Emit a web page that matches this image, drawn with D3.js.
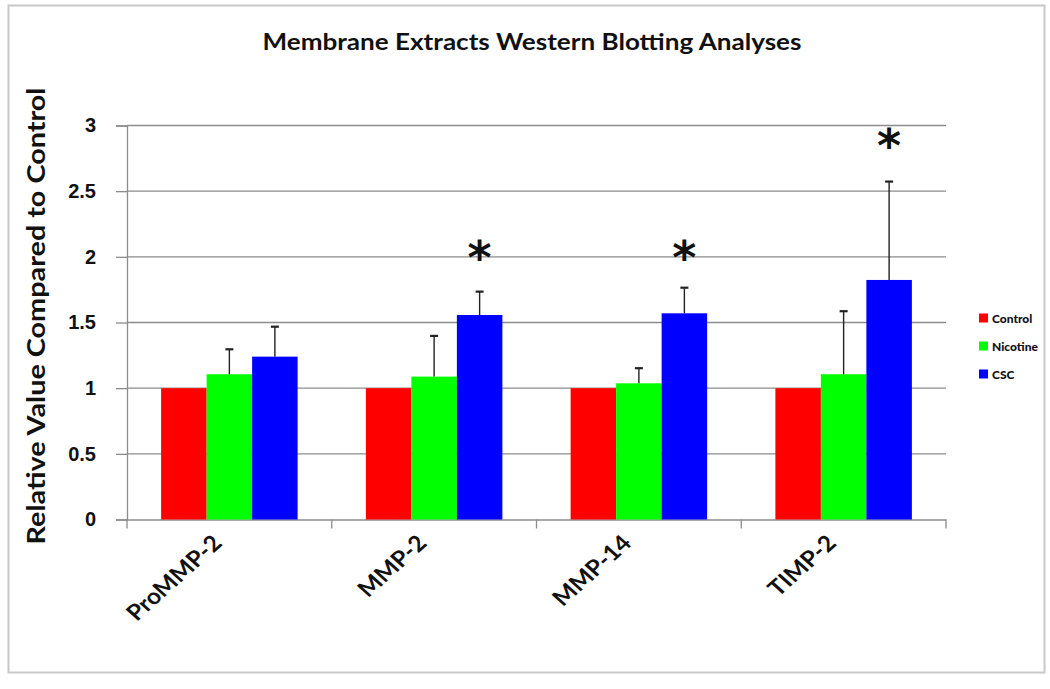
<!DOCTYPE html>
<html><head><meta charset="utf-8">
<script src="https://cdn.jsdelivr.net/npm/d3@7"></script>
<style>body{margin:0;background:#fff;} svg{display:block;font-family:Lato,"Open Sans",sans-serif;}</style>
</head><body>
<script>
const categories = ["ProMMP-2","MMP-2","MMP-14","TIMP-2"];
const seriesNames = ["Control","Nicotine","CSC"];
const control = [1,1,1,1];
const nicotine = [1.106,1.088,1.037,1.106];
const csc = [1.24,1.557,1.57,1.824];
const controlErr = [0,0,0,0];
const nicotineErr = [0.19,0.31,0.115,0.48];
const cscErr = [0.228,0.178,0.195,0.749];
const asteriskAt = [null,2.03,2.03,2.88];
const yTicks = [0,0.5,1,1.5,2,2.5,3];
const colors = ["#ff0000","#00ff00","#0000ff"];

(function(){
const W=1050,H=689;
const svg=d3.select("body").append("svg").attr("width",W).attr("height",H);
svg.append("rect").attr("x",8.5).attr("y",5.5).attr("width",1036).attr("height",667)
  .attr("fill","#fff").attr("stroke","#c8c8c8").attr("stroke-width",2);

const pLeft=127,pRight=946,pTop=125.5,pBottom=519.5;
const x=d3.scaleBand().domain(categories).range([pLeft,pRight]);
const y=d3.scaleLinear().domain([0,3]).range([pBottom,pTop]);
const inner=d3.scaleBand().domain(seriesNames).range([0,x.bandwidth()]).paddingInner(0).paddingOuter(0.75);

svg.append("g").selectAll("line").data(yTicks.filter(d=>d>0)).join("line")
  .attr("x1",pLeft).attr("x2",pRight).attr("y1",d=>y(d)).attr("y2",d=>y(d))
  .attr("stroke","#8c8c8c").attr("stroke-width",1.3);

const ya=svg.append("g").attr("transform",`translate(${pLeft},0)`)
  .call(d3.axisLeft(y).tickValues(yTicks).tickFormat(d=>String(d)).tickSizeOuter(0).tickSize(11).tickPadding(20));
ya.select(".domain").attr("stroke","#8c8c8c").attr("stroke-width",1.3);
ya.selectAll(".tick line").attr("stroke","#8c8c8c").attr("stroke-width",1.3);
ya.selectAll("text").attr("font-size",20).attr("font-weight","bold").attr("fill","#111");

const xa=svg.append("g").attr("transform",`translate(0,${pBottom})`)
  .call(d3.axisBottom(x).tickSize(0).tickFormat(""));
xa.select(".domain").attr("stroke","#8c8c8c").attr("stroke-width",1.3);
const xEdges=[pLeft].concat(categories.map(c=>x(c)+x.bandwidth()));
svg.append("g").selectAll("line").data(xEdges).join("line")
  .attr("x1",d=>d).attr("x2",d=>d).attr("y1",pBottom).attr("y2",pBottom+9)
  .attr("stroke","#8c8c8c").attr("stroke-width",1.3);
svg.append("g").selectAll("text").data(categories).join("text")
  .attr("transform",d=>`translate(${x(d)+x.bandwidth()/2-6},${pBottom+25}) scale(1.12,1) rotate(-45)`)
  .attr("text-anchor","end").attr("font-size",22).attr("font-weight","bold").attr("fill","#111").text(d=>d);

const series=[control,nicotine,csc];
const errs=[controlErr,nicotineErr,cscErr];
series.forEach((vals,si)=>{
  svg.append("g").selectAll("rect").data(categories).join("rect")
    .attr("x",(c)=>x(c)+inner(seriesNames[si]))
    .attr("width",inner.bandwidth())
    .attr("y",(c,i)=>y(vals[i]))
    .attr("height",(c,i)=>y(0)-y(vals[i]))
    .attr("fill",colors[si]);
});
series.forEach((vals,si)=>{
  categories.forEach((c,i)=>{
    const e=errs[si][i]; if(!e) return;
    const cx=x(c)+inner(seriesNames[si])+inner.bandwidth()/2;
    svg.append("line").attr("x1",cx).attr("x2",cx).attr("y1",y(vals[i])).attr("y2",y(vals[i]+e))
      .attr("stroke","#222").attr("stroke-width",1.4);
    svg.append("line").attr("x1",cx-4).attr("x2",cx+4).attr("y1",y(vals[i]+e)).attr("y2",y(vals[i]+e))
      .attr("stroke","#222").attr("stroke-width",2.2);
  });
});
svg.append("g").selectAll("text").data(categories.map((c,i)=>({c,v:asteriskAt[i]})).filter(d=>d.v!=null)).join("text")
  .attr("x",d=>x(d.c)+inner("CSC")+inner.bandwidth()/2)
  .attr("y",d=>y(d.v)+21).attr("text-anchor","middle")
  .attr("font-size",46).attr("font-weight","bold").attr("font-family","'DejaVu Sans',sans-serif").attr("fill","#111").text("*");

svg.append("text").attr("x",532).attr("y",50).attr("text-anchor","middle")
  .attr("font-size",23).attr("font-weight","bold").attr("fill","#111")
  .attr("textLength",539).attr("lengthAdjust","spacingAndGlyphs")
  .text("Membrane Extracts Western Blotting Analyses");
svg.append("text").attr("transform",`translate(45,${316}) rotate(-90)`).attr("text-anchor","middle")
  .attr("font-size",24).attr("font-weight","bold").attr("fill","#111")
  .attr("textLength",457).attr("lengthAdjust","spacingAndGlyphs")
  .text("Relative Value Compared to Control");

const lg=svg.append("g").attr("transform","translate(979,313.5)");
seriesNames.forEach((n,i)=>{
  lg.append("rect").attr("x",0).attr("y",i*28).attr("width",9).attr("height",9).attr("fill",colors[i]);
  lg.append("text").attr("x",13).attr("y",i*28+9).attr("font-size",12).attr("font-weight","900").attr("fill","#111").text(n);
});
})();
</script>
</body></html>
